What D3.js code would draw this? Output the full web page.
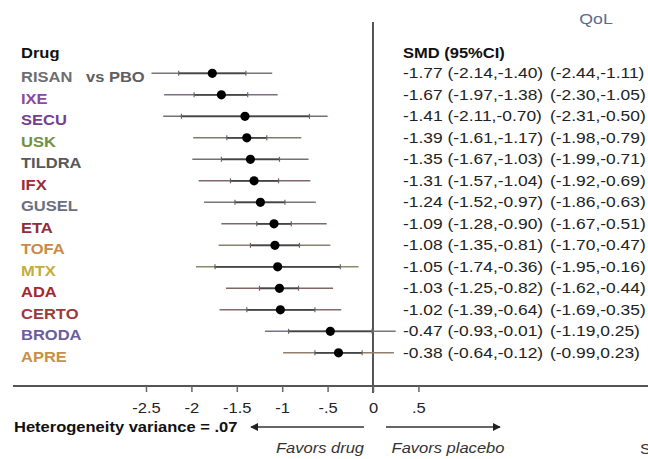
<!DOCTYPE html>
<html>
<head>
<meta charset="utf-8">
<script src="https://cdn.jsdelivr.net/npm/d3@7"></script>
<style>
  html, body { margin: 0; padding: 0; background: #fff; }
  svg { display: block; font-family: "Liberation Sans", Arial, Helvetica, sans-serif; }
</style>
</head>
<body>
<svg id="chart" width="648" height="459"></svg>
<script>
// Network meta-analysis of quality-of-life outcomes, each drug vs placebo
const drugs   = ["RISAN", "IXE", "SECU", "USK", "TILDRA", "IFX", "GUSEL", "ETA", "TOFA", "MTX", "ADA", "CERTO", "BRODA", "APRE"];
const smd     = [-1.77, -1.67, -1.41, -1.39, -1.35, -1.31, -1.24, -1.09, -1.08, -1.05, -1.03, -1.02, -0.47, -0.38];
const ciLow   = [-2.14, -1.97, -2.11, -1.61, -1.67, -1.57, -1.52, -1.28, -1.35, -1.74, -1.25, -1.39, -0.93, -0.64];
const ciHigh  = [-1.40, -1.38, -0.70, -1.17, -1.03, -1.04, -0.97, -0.90, -0.81, -0.36, -0.82, -0.64, -0.01, -0.12];
const piLow   = [-2.44, -2.30, -2.31, -1.98, -1.99, -1.92, -1.86, -1.67, -1.70, -1.95, -1.62, -1.69, -1.19, -0.99];
const piHigh  = [-1.11, -1.05, -0.50, -0.79, -0.71, -0.69, -0.63, -0.51, -0.47, -0.16, -0.44, -0.35, 0.25, 0.23];
const drugColors = ["#6d6d72", "#8b4a9c", "#73408f", "#6f8f45", "#585858", "#9e2b35", "#6a6e7e",
                    "#8e2d3c", "#c98a48", "#c4ad38", "#a3282e", "#9b3a3a", "#6b5c9e", "#c99045"];
const tickValues = [-2.5, -2, -1.5, -1, -0.5, 0, 0.5];
const tickLabels = ["-2.5", "-2", "-1.5", "-1", "-.5", "0", ".5"];

const fmt = v => v.toFixed(2);
const rows = drugs.map((d, i) => ({
  drug: d, color: drugColors[i], smd: smd[i],
  ciLow: ciLow[i], ciHigh: ciHigh[i], piLow: piLow[i], piHigh: piHigh[i]
}));

const svg = d3.select("#chart");
const SX = 1.18;   // horizontal stretch of the typeface

const x = d3.scaleLinear().domain([-2.5, 0.5]).range([146, 418.4]);
const y = d3.scalePoint().domain(drugs).range([73.3, 352.8]);

function label(g, px, py, str, o = {}) {
  return g.append("text")
    .attr("transform", `translate(${px},${py}) scale(${o.sx || SX},1)`)
    .attr("font-size", o.size || 14)
    .attr("font-weight", o.weight || "normal")
    .attr("font-style", o.style || "normal")
    .attr("text-anchor", o.anchor || "start")
    .attr("fill", o.fill || "#222")
    .text(str);
}

// Reference line at zero effect
svg.append("line")
  .attr("x1", x(0)).attr("x2", x(0)).attr("y1", 22).attr("y2", 393)
  .attr("stroke", "#555").attr("stroke-width", 2);

// Baseline and ticks
svg.append("line")
  .attr("x1", 13).attr("x2", 648).attr("y1", 386).attr("y2", 386)
  .attr("stroke", "#555").attr("stroke-width", 2);

const axis = svg.append("g")
  .attr("transform", "translate(0,386)")
  .call(d3.axisBottom(x).tickValues(tickValues)
    .tickFormat((d, i) => tickLabels[i]).tickSize(6).tickPadding(11));
axis.select(".domain").remove();
axis.selectAll(".tick line").attr("stroke", "#666").attr("stroke-width", 1.5);
axis.selectAll(".tick text")
  .attr("font-size", 14).attr("fill", "#222")
  .attr("font-family", "Liberation Sans, Arial, sans-serif")
  .attr("transform", `scale(${SX},1)`);

// Headers
label(svg, 21, 58, "Drug", { weight: "bold", fill: "#111" });
label(svg, 403, 58, "SMD (95%CI)", { weight: "bold", fill: "#111" });
label(svg, 596, 24, "QoL", { size: 15, fill: "#5a6a90", anchor: "middle" });

// Intervals and point estimates
const g = svg.append("g");
rows.forEach(r => {
  const yy = y(r.drug);
  const tint = d3.interpolateRgb(r.color, "#7a7a7a")(0.75);
  g.append("line")
    .attr("x1", x(r.piLow)).attr("x2", x(r.piHigh)).attr("y1", yy).attr("y2", yy)
    .attr("stroke", tint).attr("stroke-width", 1.5);
  g.append("line")
    .attr("x1", x(r.ciLow)).attr("x2", x(r.ciHigh)).attr("y1", yy).attr("y2", yy)
    .attr("stroke", "#444").attr("stroke-width", 1.8);
  [r.ciLow, r.ciHigh].forEach(v => {
    g.append("line")
      .attr("x1", x(v)).attr("x2", x(v)).attr("y1", yy - 2.5).attr("y2", yy + 2.5)
      .attr("stroke", "#666").attr("stroke-width", 1.2);
  });
  g.append("circle")
    .attr("cx", x(r.smd)).attr("cy", yy).attr("r", 4.6).attr("fill", "#000");

  label(svg, 21, yy + 9, r.drug, { weight: "bold", fill: r.color });
  label(svg, 403, yy + 5, `${fmt(r.smd)} (${fmt(r.ciLow)},${fmt(r.ciHigh)})`, { size: 15, sx: 1.16 });
  label(svg, 550, yy + 5, `(${fmt(r.piLow)},${fmt(r.piHigh)})`, { size: 15, sx: 1.16 });
});
label(svg, 86, y("RISAN") + 9, "vs PBO", { weight: "bold", fill: "#5e5e62" });

// Footer
label(svg, 14, 432, "Heterogeneity variance = .07", { weight: "bold", fill: "#111" });

const defs = svg.append("defs");
defs.append("marker")
  .attr("id", "head").attr("viewBox", "0 0 10 10")
  .attr("refX", 9).attr("refY", 5)
  .attr("markerWidth", 8).attr("markerHeight", 8)
  .attr("markerUnits", "userSpaceOnUse")
  .attr("orient", "auto-start-reverse")
  .append("path").attr("d", "M0,0L10,5L0,10z").attr("fill", "#222");

svg.append("line")
  .attr("x1", 364).attr("x2", 251).attr("y1", 427).attr("y2", 427)
  .attr("stroke", "#333").attr("stroke-width", 1.5).attr("marker-end", "url(#head)");
svg.append("line")
  .attr("x1", 386).attr("x2", 500).attr("y1", 427).attr("y2", 427)
  .attr("stroke", "#333").attr("stroke-width", 1.5).attr("marker-end", "url(#head)");

label(svg, 320, 453, "Favors drug", { style: "italic", anchor: "middle", fill: "#333" });
label(svg, 448, 453, "Favors placebo", { style: "italic", anchor: "middle", fill: "#333" });
label(svg, 640, 454, "S", { fill: "#333" });
</script>
</body>
</html>
